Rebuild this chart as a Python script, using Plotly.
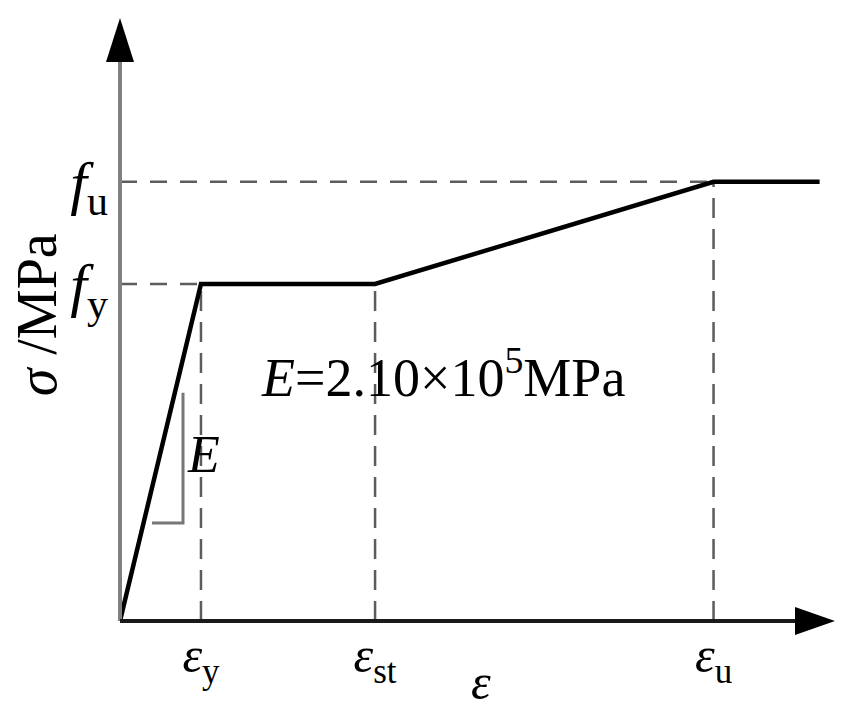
import plotly.graph_objects as go

# idealised steel stress-strain curve (normalised: eps_y = 1, f_y = 1)
eps_y = 1.0
eps_st = 3.15
eps_u = 7.33
eps_end = 8.64
f_y = 1.0
f_u = 1.303

strain = [0, eps_y, eps_st, eps_u, eps_end]
stress = [0, f_y, f_y, f_u, f_u]

# small slope triangle next to the elastic branch
tri_x = [0.395, 0.778, 0.778]
tri_y = [0.291, 0.291, 0.677]

x_ticks = [eps_y, eps_st, eps_u]
x_ticktext = ["<i>ε</i><sub>y</sub>", "<i>ε</i><sub>st</sub>", "<i>ε</i><sub>u</sub>"]
y_ticks = [f_y, f_u]
y_ticktext = ["<i>f</i><sub>y</sub>", "<i>f</i><sub>u</sub>"]

x_max = 8.83
y_max = 1.789

serif = "Liberation Serif"
dash_col = "#5c5c5c"

fig = go.Figure()

# dashed guide lines
for xv, yv in [(eps_y, f_y), (eps_st, f_y), (eps_u, f_u)]:
    fig.add_trace(go.Scatter(x=[xv, xv], y=[0, yv], mode="lines",
                             line=dict(color=dash_col, width=2.5, dash="20px,11px"),
                             hoverinfo="skip", showlegend=False))
fig.add_trace(go.Scatter(x=[0, eps_y], y=[f_y, f_y], mode="lines",
                         line=dict(color=dash_col, width=2.5, dash="17px,13px"),
                         hoverinfo="skip", showlegend=False))
fig.add_trace(go.Scatter(x=[0, eps_u], y=[f_u, f_u], mode="lines",
                         line=dict(color=dash_col, width=2.5, dash="17px,13px"),
                         hoverinfo="skip", showlegend=False))

fig.add_trace(go.Scatter(x=tri_x, y=tri_y, mode="lines",
                         line=dict(color="#777777", width=3),
                         hoverinfo="skip", showlegend=False))

fig.add_trace(go.Scatter(x=strain, y=stress, mode="lines",
                         line=dict(color="black", width=4.5),
                         cliponaxis=False, showlegend=False))

# axes with arrow heads (paper refs so nothing gets clipped)
fig.add_shape(type="line", xref="paper", yref="paper", x0=0, y0=0, x1=0, y1=0.96,
              line=dict(color="#808080", width=4))
fig.add_shape(type="line", xref="paper", yref="paper", x0=0, y0=0, x1=0.97, y1=0,
              line=dict(color="#1a1a1a", width=4))
fig.add_shape(type="path", xref="paper", yref="paper",
              xsizemode="pixel", ysizemode="pixel",
              xanchor=0, yanchor=1, path="M0,0 L-14,-44 L14,-44 Z",
              fillcolor="black", line=dict(width=0))
fig.add_shape(type="path", xref="paper", yref="paper",
              xsizemode="pixel", ysizemode="pixel",
              xanchor=1, yanchor=0, path="M0,0 L-40,14 L-40,-14 Z",
              fillcolor="black", line=dict(width=0))

fig.add_annotation(x=1.025, y=0.493, text="<i>E</i>", showarrow=False,
                   font=dict(family=serif, size=52, color="black"))
fig.add_annotation(x=3.99, y=0.733, text="<i>E</i>=2.10×10<sup>5</sup>MPa",
                   showarrow=False, font=dict(family=serif, size=54, color="black"))

# axis titles
fig.add_annotation(xref="paper", yref="paper", x=-0.116, y=0.507,
                   xanchor="center", yanchor="middle",
                   text="<i>σ</i> /MPa", textangle=-90, showarrow=False,
                   font=dict(family=serif, size=56, color="black"))
fig.add_annotation(xref="paper", yref="paper", x=0.505, y=-0.101,
                   xanchor="center", yanchor="middle",
                   text="<i>ε</i>", showarrow=False,
                   font=dict(family=serif, size=50, color="black"))

fig.update_xaxes(range=[0, x_max], showgrid=False, zeroline=False, showline=False,
                 automargin=False,
                 tickvals=x_ticks, ticktext=x_ticktext, ticks="",
                 tickfont=dict(family=serif, size=50, color="black"))
fig.update_yaxes(range=[0, y_max], showgrid=False, zeroline=False, showline=False,
                 automargin=False,
                 tickvals=y_ticks, ticktext=y_ticktext, ticks="",
                 ticklabelstandoff=11,
                 tickfont=dict(family=serif, size=60, color="black"))

fig.update_layout(width=853, height=716, template="none",
                  margin=dict(l=120, r=18, t=18, b=95),
                  plot_bgcolor="white", paper_bgcolor="white")

# drop the page's default body margin so the figure fills the window
fig.write_html("out.html", config={"displayModeBar": False},
               post_script="document.body.style.margin='0';")
